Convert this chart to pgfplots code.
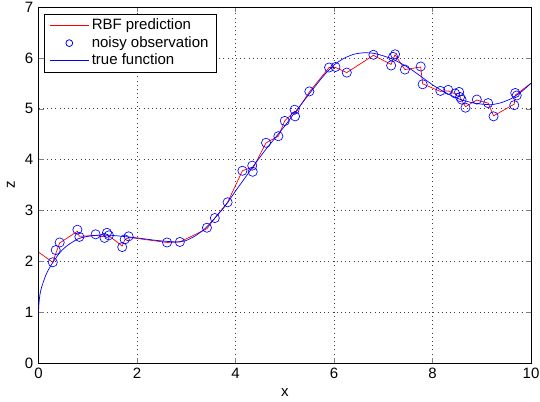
\documentclass[border=0pt]{standalone}
\usepackage{pgfplots}
\pgfplotsset{compat=1.18}
\usepackage{fontspec}
\setmainfont{Liberation Sans}
\newcommand{\lblfont}{\fontsize{15}{18}\selectfont}
\begin{document}
\lblfont
\begin{tikzpicture}
\begin{axis}[
  scale only axis, width=492.5pt, height=356pt,
  xmin=0, xmax=10, ymin=0, ymax=7,
  xtick={0,2,4,6,8,10}, ytick={0,1,2,3,4,5,6,7},
  xtick pos=both, ytick pos=both,
  tick align=inside, major tick length=5pt,
  axis line style={line width=0.7pt},
  grid=major, grid style={dash pattern=on 0.9pt off 3.3pt, line width=0.7pt, black!75},
  xlabel={x}, ylabel={z},
  tick label style={font=\lblfont},
  label style={font=\lblfont},
  /pgf/number format/assume math mode=true,
  legend cell align=left,
  legend style={at={(axis description cs:0,1)}, anchor=north west,
    xshift=5.5pt, yshift=-7pt, line width=0.7pt,
    font=\lblfont, inner xsep=5pt, inner ysep=2.5pt,
    nodes={inner xsep=2.5pt, inner ysep=2.2pt}},
]
\addplot[red, line width=0.7pt,
  legend image code/.code={\draw[red, line width=0.9pt] (0pt,0pt) -- (39pt,0pt);}]
coordinates {
(0,2.18) (0.29,1.98) (0.35,2.15) (0.43,2.36) (0.79,2.59) (0.83,2.49)
(1.16,2.51) (1.34,2.48) (1.39,2.52) (1.43,2.50) (1.70,2.30) (1.75,2.42)
(1.83,2.47) (2.61,2.37) (2.87,2.38) (3.42,2.64) (3.58,2.85) (3.84,3.16)
(4.14,3.78) (4.34,3.85) (4.35,3.82) (4.62,4.33) (4.87,4.46) (5.00,4.76)
(5.20,4.95) (5.21,4.90) (5.50,5.33) (5.90,5.81) (6.03,5.81) (6.26,5.71)
(6.80,6.05) (7.16,5.87) (7.20,5.98) (7.24,6.06) (7.44,5.77) (7.76,5.82)
(7.80,5.49) (8.16,5.34) (8.32,5.35) (8.46,5.29) (8.54,5.30) (8.56,5.23)
(8.59,5.17) (8.67,5.04) (8.90,5.17) (9.13,5.11) (9.24,4.86) (9.66,5.09)
(9.68,5.27) (9.71,5.29) (10,5.50)
};
\addlegendentry{RBF prediction}
\addplot[blue, only marks, mark=o, mark size=4.6pt, line width=0.65pt,
  legend image code/.code={\draw[blue, line width=0.8pt] (19.5pt,0pt) circle[radius=3.4pt]; \path (0pt,0pt) (39pt,0pt);}]
coordinates {
(0.29,1.98) (0.35,2.22) (0.43,2.37) (0.79,2.62) (0.83,2.48)
(1.16,2.53) (1.34,2.46) (1.39,2.56) (1.43,2.51) (1.70,2.28) (1.75,2.43)
(1.83,2.49) (2.61,2.37) (2.87,2.38) (3.42,2.66) (3.58,2.85) (3.84,3.16)
(4.14,3.78) (4.34,3.88) (4.35,3.76) (4.62,4.33) (4.87,4.46) (5.00,4.76)
(5.20,4.98) (5.21,4.85) (5.50,5.34) (5.90,5.81) (6.03,5.82) (6.26,5.71)
(6.80,6.06) (7.16,5.85) (7.20,6.02) (7.24,6.07) (7.44,5.77) (7.76,5.83)
(7.80,5.48) (8.16,5.35) (8.32,5.37) (8.46,5.30) (8.54,5.33) (8.56,5.23)
(8.59,5.18) (8.67,5.02) (8.90,5.18) (9.13,5.11) (9.24,4.85) (9.66,5.07)
(9.68,5.31) (9.71,5.26)
};
\addlegendentry{noisy observation}
\addplot[blue, line width=0.7pt, smooth, tension=0.4,
  legend image code/.code={\draw[blue, line width=0.9pt] (0pt,0pt) -- (39pt,0pt);}]
coordinates {
(0,1.0) (0.01,1.18) (0.03,1.35) (0.06,1.48) (0.1,1.60) (0.15,1.73)
(0.2,1.83) (0.3,1.99) (0.45,2.19) (0.6,2.32) (0.8,2.44) (1.0,2.49)
(1.3,2.52) (1.6,2.50) (2.0,2.46) (2.4,2.41) (2.8,2.38) (3.0,2.41)
(3.2,2.51) (3.4,2.66) (3.6,2.87) (3.8,3.10) (4.0,3.38) (4.2,3.65)
(4.4,3.92) (4.6,4.18) (4.8,4.42) (5.0,4.66) (5.2,4.92) (5.4,5.17)
(5.6,5.42) (5.8,5.66) (6.0,5.86) (6.2,5.99) (6.4,6.07) (6.6,6.10)
(6.8,6.09) (7.0,6.04) (7.2,5.97) (7.4,5.87) (7.6,5.75) (7.8,5.61)
(8.0,5.47) (8.2,5.35) (8.4,5.25) (8.6,5.17) (8.8,5.12) (9.0,5.09)
(9.2,5.08) (9.4,5.12) (9.6,5.20) (9.8,5.33) (10.0,5.50)
};
\addlegendentry{true function}
\coordinate (bl) at (rel axis cs:0,0);
\coordinate (tr) at (rel axis cs:1,1);
\end{axis}
\pgfresetboundingbox
\path[use as bounding box] ([xshift=-38.5pt,yshift=-39pt]bl) rectangle ([xshift=9pt,yshift=7pt]tr);
\end{tikzpicture}
\end{document}
